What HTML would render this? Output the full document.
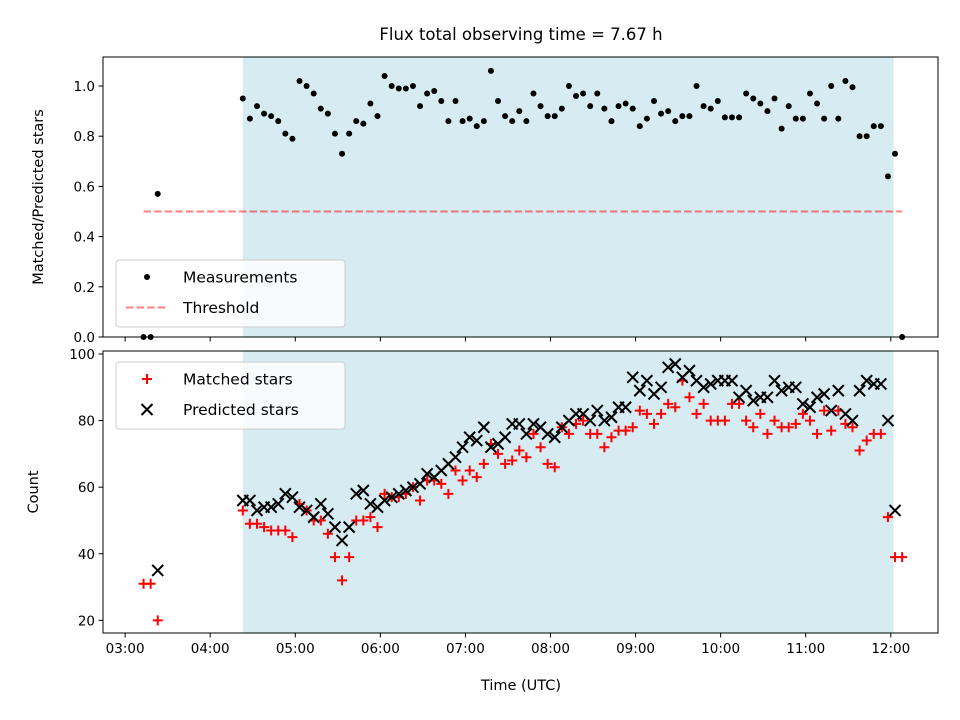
<!DOCTYPE html>
<html><head><meta charset="utf-8"><style>
body{margin:0;background:#fff;}
svg{display:block;font-family:"DejaVu Sans","Liberation Sans",sans-serif;}
</style></head><body>
<svg id="chart" width="960" height="720" viewBox="0 0 960 720" xmlns="http://www.w3.org/2000/svg"></svg>
<script>
const preTimes = [193, 198, 203];
const preRatio = [0, 0, 0.57];
const preMatched = [31, 31, 20];
const prePredicted = [null, null, 35];
const times = [263,268,273,278,283,288,293,298,303,308,313,318,323,328,333,338,343,348,353,358,363,368,373,378,383,388,393,398,403,408,413,418,423,428,433,438,443,448,453,458,463,468,473,478,483,488,493,498,503,508,513,518,523,528,533,538,543,548,553,558,563,568,573,578,583,588,593,598,603,608,613,618,623,628,633,638,643,648,653,658,663,668,673,678,683,688,693,698,703,708,713,718,723,728];
const ratio = [0.95,0.87,0.92,0.89,0.88,0.86,0.81,0.79,1.02,1.0,
0.97,0.91,0.89,0.81,0.73,0.81,0.86,0.85,0.93,0.88,
1.04,1.0,0.99,0.99,1.0,0.92,0.97,0.98,0.94,0.86,
0.94,0.86,0.87,0.84,0.86,1.06,0.94,0.88,0.86,0.9,
0.86,0.97,0.92,0.88,0.88,
0.91,1.0,0.96,0.97,0.92,0.97,0.91,0.86,0.92,0.93,
0.91,0.84,0.87,0.94,0.89,0.90,0.86,0.88,0.88,1.0,
0.92,0.91,0.94,0.875,0.875,0.875,0.97,0.95,0.93,0.90,
0.95,0.83,0.92,0.87,0.87,0.97,0.93,0.87,1.0,0.87,
1.02,0.995,0.80,0.80,0.84,0.84,0.64,0.73,0];
const predicted = [56,56,53,54,54,55,58,57,54,53,
51,55,52,48,44,48,58,59,55,54,
56,57,58,59,60,61,64,63,65,67,
69,72,75,74,78,72,73,75,79,79,
76,79,78,76,75,
78,80,82,82,80,83,80,81,84,84,
93,89,92,88,90,96,97,93,95,92,
90,91,92,92,92,87,89,86,87,87,
92,89,90,90,85,84,87,88,83,89,
82,80,89,92,91,91,80,53,null];
const matched = [53,49,49,48,47,47,47,45,55,53,
50,50,46,39,32,39,50,50,51,48,
58,57,57,58,60,56,62,62,61,58,
65,62,65,63,67,73,70,67,68,71,
69,76,72,67,66,
78,76,79,80,76,76,72,75,77,77,
78,83,82,79,82,85,84,92,87,82,
85,80,80,80,85,85,80,78,82,76,
80,78,78,79,82,80,76,83,77,83,
79,78,71,74,76,76,51,39,39];
const threshold = 0.5;
const thresholdRange = [193, 728];
const spanRange = [263, 722];
const xTickLabels = ["03:00","04:00","05:00","06:00","07:00","08:00","09:00","10:00","11:00","12:00"];
const xTickMinutes = [180,240,300,360,420,480,540,600,660,720];
const topTicks = [0.0,0.2,0.4,0.6,0.8,1.0];
const bottomTicks = [20,40,60,80,100];

const NS="http://www.w3.org/2000/svg";
const svg=document.getElementById('chart');
function mk(tag,attrs,parent){const e=document.createElementNS(NS,tag);for(const k in attrs)e.setAttribute(k,attrs[k]);(parent||svg).appendChild(e);return e;}
const L=103,R=938;
const xMin=164.4,xMax=753.3;
function x(t){return L+(t-xMin)/(xMax-xMin)*(R-L);}
const T1=57,B1=337; function y1(v){return B1-(v-0)/(1.1155)*(B1-T1);}
const T2=351,B2=633; function y2(v){return B2-(v-16.2)/(100.9-16.2)*(B2-T2);}

let t=mk('text',{x:521,y:40,'text-anchor':'middle','font-size':'16.5'});t.textContent='Flux total observing time = 7.67 h';


function panel(T,B,name){
  const g=mk('g',{});
  
  const s=mk('rect',{x:x(spanRange[0]),y:T,width:x(spanRange[1])-x(spanRange[0]),height:B-T,fill:'#add8e6','fill-opacity':0.5},g);
  
  return g;
}
const gTop=panel(T1,B1,'ratio-panel');
const gBot=panel(T2,B2,'count-panel');

let th=mk('line',{x1:x(thresholdRange[0]),x2:x(thresholdRange[1]),y1:y1(threshold),y2:y1(threshold),stroke:'#ff0000','stroke-opacity':0.5,'stroke-width':2,'stroke-dasharray':'7.4,3.2'},gTop);


const allT=preTimes.concat(times);
const allR=preRatio.concat(ratio);
allR.forEach((v,i)=>{if(v==null)return;
  const c=mk('circle',{cx:x(allT[i]),cy:y1(v),r:3,fill:'#000'},gTop);
  });

const allM=preMatched.concat(matched);
const allP=prePredicted.concat(predicted);
function plus(cx,cy,g){const p=mk('path',{d:`M${cx-5} ${cy}H${cx+5}M${cx} ${cy-5}V${cy+5}`,stroke:'#ff0000','stroke-width':2,fill:'none'},g);return p;}
function cross(cx,cy,g){const p=mk('path',{d:`M${cx-5.5} ${cy-5.5}L${cx+5.5} ${cy+5.5}M${cx-5.5} ${cy+5.5}L${cx+5.5} ${cy-5.5}`,stroke:'#000','stroke-width':2,fill:'none'},g);return p;}
allM.forEach((v,i)=>{if(v==null)return;const p=plus(x(allT[i]),y2(v),gBot);
  });
allP.forEach((v,i)=>{if(v==null)return;const p=cross(x(allT[i]),y2(v),gBot);
  });

[[T1,B1],[T2,B2]].forEach(([T,B],k)=>{const r=mk('rect',{x:L,y:T,width:R-L,height:B-T,fill:'none',stroke:'#000','stroke-width':1});
  });

xTickMinutes.forEach((m,i)=>{const xx=x(m);
  mk('line',{x1:xx,x2:xx,y1:B1,y2:B1+4.5,stroke:'#000'});
  mk('line',{x1:xx,x2:xx,y1:B2,y2:B2+4.5,stroke:'#000'});
  const tx=mk('text',{x:xx,y:B2+20,'text-anchor':'middle','font-size':'13.5'});tx.textContent=xTickLabels[i];
  });
topTicks.forEach(v=>{const yy=y1(v);mk('line',{x1:L-4.5,x2:L,y1:yy,y2:yy,stroke:'#000'});
  const tx=mk('text',{x:L-8,y:yy+5,'text-anchor':'end','font-size':'13.5'});tx.textContent=v.toFixed(1);
  });
bottomTicks.forEach(v=>{const yy=y2(v);mk('line',{x1:L-4.5,x2:L,y1:yy,y2:yy,stroke:'#000'});
  const tx=mk('text',{x:L-8,y:yy+5,'text-anchor':'end','font-size':'13.5'});tx.textContent=v;
  });

let a=mk('text',{x:521,y:690,'text-anchor':'middle','font-size':'14.5'});a.textContent='Time (UTC)';

a=mk('text',{x:0,y:0,'text-anchor':'middle','font-size':'14.5',transform:`translate(43,${(T1+B1)/2}) rotate(-90)`});a.textContent='Matched/Predicted stars';

a=mk('text',{x:0,y:0,'text-anchor':'middle','font-size':'14.5',transform:`translate(38,${(T2+B2)/2}) rotate(-90)`});a.textContent='Count';


function legend(y0,name,entries){
  const g=mk('g',{});
  mk('rect',{x:116,y:y0,width:229,height:67,rx:3,fill:'#fff','fill-opacity':0.8,stroke:'#ccc'},g);
  entries.forEach((e,i)=>{const cy=y0+17+i*30.5;
    const m=e.draw(147,cy,g);
    const tx=mk('text',{x:183,y:cy+5.5,'font-size':'15.5'},g);tx.textContent=e.label;
    });
}
legend(260,'ratio-legend',[
  {key:'measurements',label:'Measurements',draw:(cx,cy,g)=>mk('circle',{cx:cx,cy:cy,r:3,fill:'#000'},g)},
  {key:'threshold',label:'Threshold',draw:(cx,cy,g)=>mk('line',{x1:cx-21,x2:cx+21,y1:cy,y2:cy,stroke:'#ff0000','stroke-opacity':0.5,'stroke-width':2,'stroke-dasharray':'7.4,3.2'},g)}
]);
legend(362,'count-legend',[
  {key:'matched-stars',label:'Matched stars',draw:(cx,cy,g)=>plus(cx,cy,g)},
  {key:'predicted-stars',label:'Predicted stars',draw:(cx,cy,g)=>cross(cx,cy,g)}
]);
</script>
</body></html>
